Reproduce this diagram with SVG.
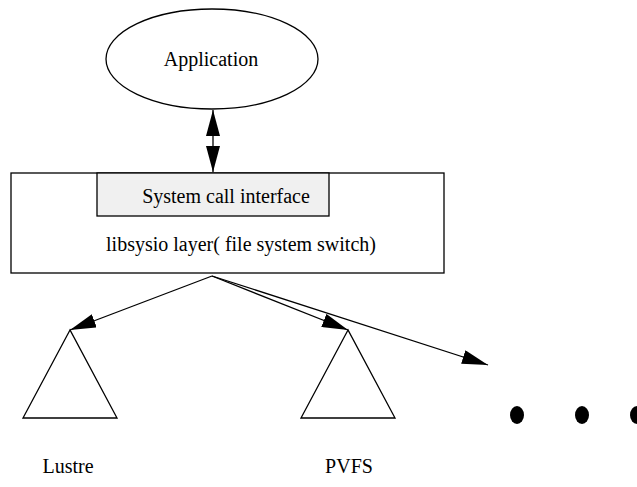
<svg xmlns="http://www.w3.org/2000/svg" width="637" height="487" viewBox="0 0 637 487">
<defs>
<style>
.shape{fill:#fff;stroke:#000;stroke-width:1.3}
.txt{font-family:"Liberation Serif","Times New Roman",serif;font-size:20px;fill:#000;text-anchor:middle}
.conn{stroke:#000;stroke-width:1.3;fill:none}
.dot{fill:#000}
</style>
<marker id="ah" viewBox="0 0 26 14" refX="26" refY="7" markerWidth="26" markerHeight="14" markerUnits="userSpaceOnUse" orient="auto-start-reverse">
<path d="M0,0 L26,7 L0,14 Z" fill="#000"/>
</marker>
</defs>
<rect width="637" height="487" fill="#fff"/>
<g id="application">
<ellipse class="shape" cx="212" cy="59" rx="106" ry="50"/>
<text class="txt" x="211" y="66">Application</text>
</g>
<g id="libsysio">
<rect class="shape" x="11" y="173" width="433" height="100"/>
<rect x="97" y="173" width="232" height="43" fill="#f0f0f0" stroke="#000" stroke-width="1.3"/>
<text class="txt" x="226" y="203">System call interface</text>
<text class="txt" x="241" y="251">libsysio layer( file system switch)</text>
</g>
<g id="lustre">
<polygon class="shape" points="70,330 23,418 117,418"/>
<text class="txt" x="68" y="473">Lustre</text>
</g>
<g id="pvfs">
<polygon class="shape" points="348,330 301,418 395,418"/>
<text class="txt" x="349" y="473">PVFS</text>
</g>
<g id="more">
<ellipse class="dot" cx="517" cy="415" rx="7" ry="9"/>
<ellipse class="dot" cx="582" cy="415" rx="7" ry="9"/>
<ellipse class="dot" cx="637" cy="415" rx="7" ry="9"/>
</g>
<g id="connectors">
<line class="conn" x1="213" y1="110" x2="213" y2="172" marker-start="url(#ah)" marker-end="url(#ah)"/>
<line class="conn" x1="212" y1="276" x2="70" y2="330" marker-end="url(#ah)"/>
<line class="conn" x1="212" y1="276" x2="348" y2="330" marker-end="url(#ah)"/>
<line class="conn" x1="212" y1="276" x2="488" y2="365" marker-end="url(#ah)"/>
</g>
</svg>
